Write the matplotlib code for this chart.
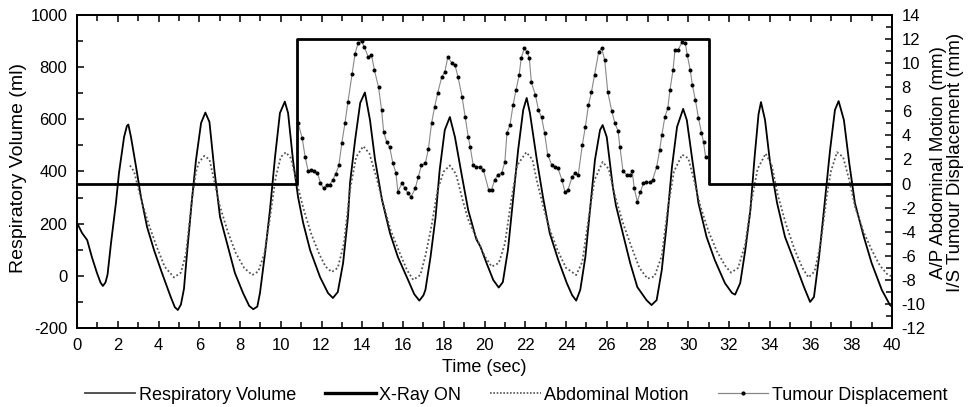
import matplotlib
matplotlib.use("Agg")
import matplotlib.pyplot as plt
from matplotlib.ticker import MultipleLocator
from matplotlib.lines import Line2D

plt.rcParams['font.family'] = ['Liberation Sans', 'DejaVu Sans']
plt.rcParams['axes.unicode_minus'] = False

# ---------------- data ----------------
resp_t = [0, 0.25, 0.5, 0.73, 0.98, 1.15, 1.27, 1.4, 1.5, 1.67, 1.91, 2.06, 2.31, 2.45, 2.52,
          2.65, 2.9, 3.14, 3.44, 3.78, 4.17, 4.6, 4.8, 4.95, 5.1, 5.25, 5.4, 5.64, 5.84, 6.09,
          6.3, 6.5, 6.75, 7.02, 7.36, 7.75, 8.15, 8.45, 8.65, 8.85, 8.98, 9.23, 9.47, 9.72,
          9.96, 10.2, 10.36, 10.6, 10.85, 11.1, 11.44, 11.93, 12.32, 12.56, 12.8, 13.06, 13.3,
          13.4, 13.65, 13.9, 14.13, 14.38, 14.63, 14.97, 15.36, 15.75, 16.25, 16.55, 16.8, 17.0,
          17.1, 17.35, 17.6, 17.8, 18.05, 18.3, 18.55, 18.9, 19.2, 19.6, 19.8, 20.1, 20.43, 20.7,
          20.9, 21.15, 21.4, 21.65, 21.9, 22.07, 22.23, 22.57, 22.87, 23.2, 23.62, 24.04, 24.3,
          24.5, 24.7, 24.95, 25.18, 25.42, 25.67, 25.8, 26.0, 26.3, 26.45, 26.75, 27.15, 27.5,
          27.95, 28.2, 28.45, 28.7, 28.95, 29.2, 29.45, 29.75, 29.93, 30.2, 30.5, 30.9, 31.3,
          31.8, 32.15, 32.3, 32.55, 32.8, 33.05, 33.25, 33.45, 33.57, 33.77, 34.0, 34.36, 34.75,
          35.24, 35.68, 35.98, 36.17, 36.42, 36.66, 36.96, 37.2, 37.38, 37.64, 37.9, 38.18,
          38.62, 39.0, 39.5, 39.9, 40.0]
resp_ml = [203, 164, 137, 72, 11, -25, -39, -25, 5, 126, 279, 394, 532, 575, 580,
           532, 417, 302, 187, 99, 11, -81, -120, -131, -110, -50, 87, 291, 444, 586,
           626, 590, 400, 226, 126, 11, -66, -115, -128, -118, -66, 87, 252, 456,
           624, 668, 624, 444, 302, 203, 99, -5, -66, -85, -62, 49, 226,
           356, 521, 663, 703, 597, 444, 291, 164, 72, -16, -70, -95, -75,
           -54, 72, 226, 406, 559, 609, 532, 379, 252, 140, 112, 49, -16, -45,
           -24, 99, 291, 482, 636, 682, 624, 444, 302, 164, 61, -28, -74,
           -95, -54, 72, 252, 444, 559, 578, 532, 340, 270, 176, 49, -43,
           -93, -112, -93, 22, 203, 417, 571, 640, 597, 444, 279, 149, 61,
           -28, -66, -72, -28, 99, 252, 450, 620, 666, 597, 444, 279, 149,
           49, -43, -100, -81, 72, 252, 482, 636, 670, 597, 433, 279,
           149, 49, -54, -112, -118]

xray_t = [0, 10.8, 10.8, 31.0, 31.0, 40]
xray_mm = [0, 0, 12, 12, 0, 0]

abd_t = [2.6, 2.8, 3.1, 3.5, 3.9, 4.3, 4.76, 5.1, 5.35, 5.64, 5.84, 6.0, 6.25, 6.5, 6.7,
         7.0, 7.4, 7.8, 8.2, 8.6, 8.9, 9.2, 9.5, 9.75, 10.0, 10.25, 10.5, 10.8, 11.1, 11.5,
         11.9, 12.2, 12.5, 12.8, 13.1, 13.4, 13.7, 14.05, 14.35, 14.7, 15.0, 15.4, 15.8, 16.2,
         16.5, 16.85, 17.1, 17.4, 17.7, 18.0, 18.3, 18.6, 18.9, 19.2, 19.6, 20.0, 20.35, 20.7,
         21.0, 21.3, 21.6, 22.05, 22.35, 22.6, 22.9, 23.2, 23.6, 24.0, 24.5, 24.8, 25.1, 25.4,
         25.8, 26.1, 26.4, 26.8, 27.2, 27.6, 28.0, 28.35, 28.7, 29.0, 29.3, 29.7, 30.0, 30.3,
         30.6, 31.0, 31.4, 31.8, 32.1, 32.45, 32.8, 33.1, 33.4, 33.8, 34.1, 34.4, 34.8, 35.2,
         35.6, 35.9, 36.2, 36.5, 36.8, 37.0, 37.3, 37.6, 37.9, 38.2, 38.6, 39.0, 39.4, 39.8, 40.0]
abd_mm = [1.5, 1.0, -1.0, -3.3, -5.2, -6.9, -7.8, -7.4, -5.8, -1.4, 1.0, 1.8, 2.3, 2.0, 0.5,
          -1.8, -4.0, -5.8, -7.0, -7.6, -7.3, -5.8, -2.5, 0.5, 2.2, 2.6, 2.1, 0.0, -2.0, -4.2,
          -5.9, -6.9, -7.35, -7.0, -5.0, -0.5, 2.2, 3.1, 2.5, 0.5, -1.5, -3.9, -5.6, -7.2,
          -8.0, -7.6, -6.0, -3.5, -0.5, 1.0, 1.5, 0.8, -1.2, -3.0, -4.5, -6.0, -6.9, -6.6,
          -5.0, -1.5, 1.5, 2.6, 2.0, 0.0, -2.0, -3.8, -5.6, -7.0, -7.6, -6.5, -3.0, 0.3,
          1.8, 1.2, -1.0, -3.3, -5.2, -7.0, -7.9, -7.7, -6.0, -2.0, 1.0, 2.4, 2.1, 0.2,
          -1.9, -4.0, -5.6, -6.8, -7.4, -7.0, -5.0, -1.5, 1.2, 2.5, 1.5, -1.0, -3.4, -5.4,
          -7.0, -7.8, -7.3, -5.0, -1.0, 1.0, 2.6, 2.2, 0.3, -2.0, -4.0, -5.5, -6.8, -7.6, -7.7]

tum_t = [10.85, 11.05, 11.2, 11.35, 11.5, 11.65, 11.8, 11.95, 12.1, 12.25, 12.4, 12.55, 12.7,
         12.85, 13.0, 13.15, 13.3, 13.5, 13.65, 13.8, 13.97, 14.1, 14.3, 14.45, 14.6, 14.8,
         14.95, 15.05, 15.2, 15.35, 15.5, 15.65, 15.75, 15.95, 16.1, 16.25, 16.4, 16.6, 16.75,
         16.9, 17.1, 17.25, 17.4, 17.55, 17.7, 17.9, 18.05, 18.2, 18.4, 18.55, 18.7, 18.9,
         19.05, 19.2, 19.3, 19.45, 19.6, 19.8, 19.95, 20.2, 20.35, 20.5, 20.65, 20.85, 21.0,
         21.1, 21.25, 21.4, 21.55, 21.7, 21.8, 21.95, 22.1, 22.2, 22.3, 22.5, 22.65, 22.8,
         22.95, 23.1, 23.3, 23.45, 23.6, 23.8, 23.95, 24.1, 24.3, 24.45, 24.6, 24.8, 24.95,
         25.1, 25.25, 25.4, 25.6, 25.75, 25.9, 26.05, 26.25, 26.4, 26.55, 26.65, 26.8, 27.0,
         27.15, 27.25, 27.35, 27.5, 27.65, 27.8, 27.95, 28.1, 28.25, 28.45, 28.6, 28.7, 28.85,
         29.0, 29.1, 29.25, 29.35, 29.5, 29.7, 29.85, 29.95, 30.1, 30.2, 30.35, 30.5, 30.65,
         30.75, 30.85]
tum_mm = [5.0, 3.8, 2.2, 1.0, 1.1, 1.0, 0.9, 0.05, -0.4, -0.1, -0.1, 0.3, 0.8,
          1.5, 3.4, 5.0, 6.8, 9.1, 10.8, 11.7, 11.8, 11.35, 10.5, 10.7, 9.4, 8.0,
          6.1, 4.3, 3.45, 3.0, 1.7, 0.9, -0.7, 0.05, -0.4, -0.8, -1.1, -0.4, 0.55,
          1.5, 1.7, 2.9, 5.0, 6.35, 7.5, 8.85, 9.25, 10.5, 10.0, 9.85, 8.85, 7.2,
          5.55, 3.9, 3.0, 1.5, 1.4, 1.4, 1.1, -0.5, -0.5, 0.3, 0.7, 0.9, 1.8,
          4.2, 4.85, 6.5, 7.8, 9.0, 10.4, 11.25, 10.9, 10.4, 8.4, 7.35, 6.1, 5.5,
          4.2, 2.4, 1.55, 1.4, 1.3, 0.3, -0.7, -0.5, 0.55, 0.9, 0.7, 3.2, 4.7,
          6.5, 7.6, 9.0, 10.9, 11.25, 10.25, 7.6, 6.0, 5.0, 4.4, 3.0, 1.0, 0.7,
          0.7, 1.0, -0.4, -1.5, -0.7, 0.05, 0.1, 0.1, 0.3, 1.4, 2.8, 4.0, 5.5,
          6.3, 7.75, 9.4, 11.1, 11.1, 11.75, 11.7, 10.7, 9.4, 8.2, 6.95, 5.45, 4.2,
          3.45, 2.2]

x_ticks = list(range(0, 41, 2))
left_ticks = [-200, 0, 200, 400, 600, 800, 1000]
right_ticks = list(range(-12, 15, 2))

# ---------------- figure ----------------
fig = plt.figure(figsize=(9.72, 4.07), dpi=100)
ax = fig.add_axes([77/972, 79/407, 815/972, 313/407])
ax2 = ax.twinx()

ax.plot(resp_t, resp_ml, color='black', lw=1.3, zorder=3)
ax2.plot(xray_t, xray_mm, color='black', lw=2.0, zorder=4)
ax2.plot(abd_t, abd_mm, color='#555555', lw=1.3, ls=(0, (1, 1.3)), zorder=2)
ax2.plot(tum_t, tum_mm, color='#888888', lw=0.8, marker='o', ms=1.9,
         mfc='black', mec='black', zorder=3)

ax.set_xlim(0, 40)
ax.set_ylim(-200, 1000)
ax2.set_ylim(-12, 14)

ax.set_xticks(x_ticks)
ax.xaxis.set_minor_locator(MultipleLocator(1))
ax.set_yticks(left_ticks)
ax.yaxis.set_minor_locator(MultipleLocator(100))
ax2.set_yticks(right_ticks)
ax2.yaxis.set_minor_locator(MultipleLocator(1))

tfs = 12
ax.tick_params(axis='x', which='both', direction='in', top=True, labelsize=tfs, pad=7)
ax.tick_params(axis='x', which='major', length=5, width=1.1)
ax.tick_params(axis='x', which='minor', length=4, width=1.1)
ax.tick_params(axis='y', which='major', direction='in', length=5, width=1.1, labelsize=tfs, pad=7)
ax.tick_params(axis='y', which='minor', direction='in', length=4, width=1.1)
ax2.tick_params(axis='y', which='major', direction='in', length=5, width=1.1, labelsize=tfs, pad=7)
ax2.tick_params(axis='y', which='minor', direction='in', length=4, width=1.1)

for a in (ax, ax2):
    for s in a.spines.values():
        s.set_linewidth(1.4)

lfs = 13
ax.set_xlabel('Time (sec)', fontsize=lfs, va='center', ha='center')
ax.xaxis.set_label_coords(0.5, (328 - 368) / 313)
ax.set_ylabel('Respiratory Volume (ml)', fontsize=14, va='center', ha='center')
ax.yaxis.set_label_coords((18 - 77) / 815, 0.51)
ax2.set_ylabel('A/P Abdominal Motion (mm)\nI/S Tumour Displacement (mm)', fontsize=13.5,
               va='center', ha='center', linespacing=1.0, rotation=90)
ax2.yaxis.set_label_coords((947 - 77) / 815, 0.53)

handles = [
    Line2D([], [], color='#444444', lw=1.3),
    Line2D([], [], color='black', lw=2.4),
    Line2D([], [], color='#555555', lw=1.2, ls=(0, (1, 1))),
    Line2D([], [], color='#888888', lw=0.9, marker='o', ms=2.0, mfc='black', mec='black'),
]
labels = ['Respiratory Volume', 'X-Ray ON', 'Abdominal Motion', 'Tumour Displacement']
fig.legend(handles, labels, loc='center', bbox_to_anchor=(516/972, 1 - 395/407), ncol=4,
           frameon=False, fontsize=lfs, handlelength=2.8, handletextpad=0.2, columnspacing=1.6,
           borderpad=0)

fig.savefig('out.png', dpi=100)
